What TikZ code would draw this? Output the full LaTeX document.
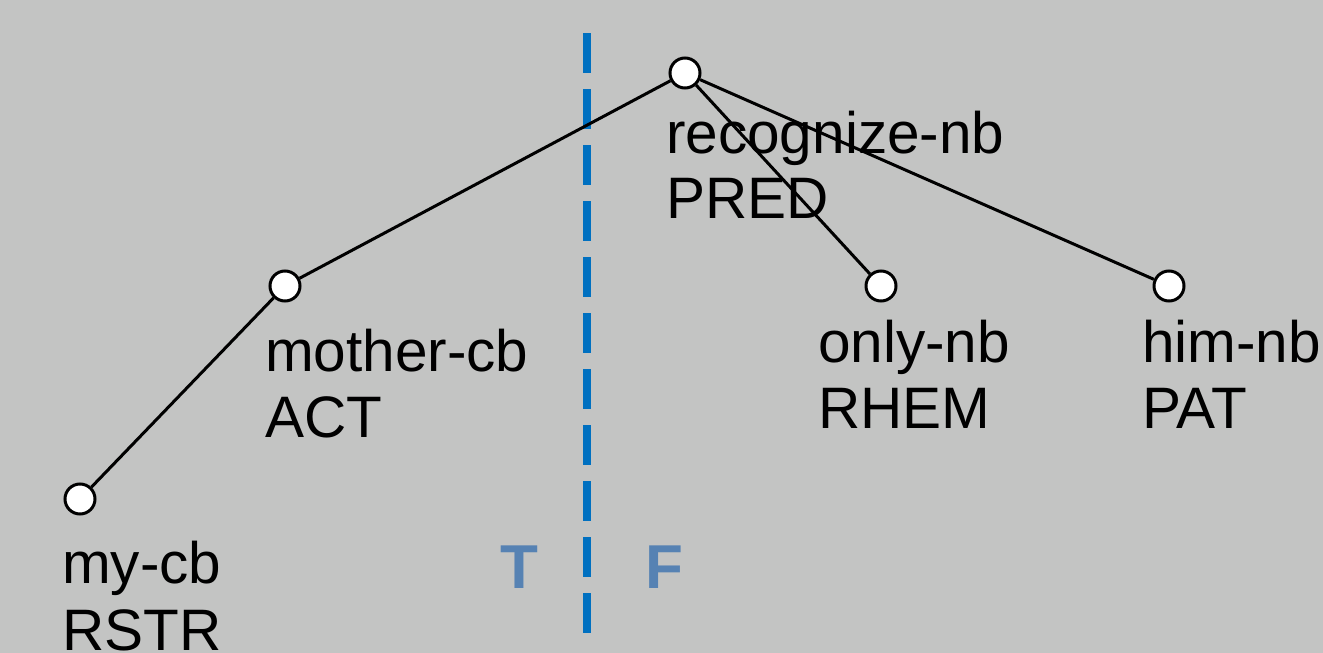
\documentclass[tikz,border=0pt]{standalone}
\usepackage{fontspec}
\setmainfont{Liberation Sans}
\definecolor{bg}{RGB}{195,196,195}
\definecolor{splitblue}{RGB}{0,112,192}
\definecolor{tfblue}{RGB}{86,130,179}
\begin{document}
\begin{tikzpicture}[x=1pt,y=-1pt,
  vertex/.style={circle,draw=black,fill=white,line width=3pt,minimum size=30pt,inner sep=0pt},
  edge/.style={draw=black,line width=3pt},
  lab/.style={anchor=base west,inner sep=0pt,font=\fontsize{58.5}{67}\selectfont},
  tf/.style={anchor=base west,inner sep=0pt,text=tfblue,font=\fontsize{62}{70}\selectfont\bfseries},
  split/.style={draw=splitblue,line width=8pt,dash pattern=on 40pt off 16pt}]
  \fill[bg] (0,0) rectangle (1323,653);
  \useasboundingbox (0,0) rectangle (1323,653);

  % topic/focus boundary
  \coordinate (splittop) at (587,33);
  \coordinate (splitbot) at (587,633);
  \draw[split] (splittop) -- (splitbot);
  \node[tf] (tlab) at (500,588) {T};
  \node[tf] (flab) at (645,588) {F};

  % dependency tree vertices
  \node[vertex] (root)   at (685,73) {};
  \node[vertex] (mother) at (285,286) {};
  \node[vertex] (my)     at (80,499) {};
  \node[vertex] (only)   at (881,286) {};
  \node[vertex] (him)    at (1169,286) {};

  % edges
  \draw[edge] (root) -- (mother);
  \draw[edge] (mother) -- (my);
  \draw[edge] (root) -- (only);
  \draw[edge] (root) -- (him);

  % labels: lemma and functor
  \node[lab] (rootw)   at (666,153) {recognize-nb};
  \node[lab] (rootf)   at (666,218) {PRED};
  \node[lab] (motherw) at (265,371) {mother-cb};
  \node[lab] (motherf) at (265,437) {ACT};
  \node[lab] (myw)     at (62,583)  {my-cb};
  \node[lab] (myf)     at (62,650)  {RSTR};
  \node[lab] (onlyw)   at (818,362) {only-nb};
  \node[lab] (onlyf)   at (818,428) {RHEM};
  \node[lab] (himw)    at (1142,362) {him-nb};
  \node[lab] (himf)    at (1142,428) {PAT};
\end{tikzpicture}
\end{document}
